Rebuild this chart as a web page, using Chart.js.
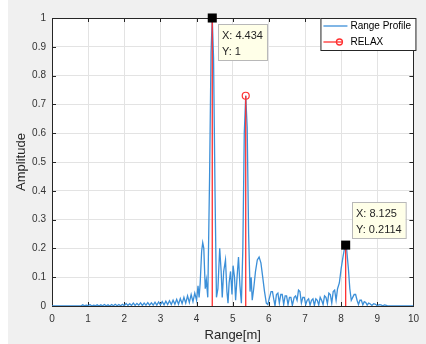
<!DOCTYPE html>
<html>
<head>
<meta charset="utf-8">
<script src="https://cdn.jsdelivr.net/npm/chart.js@4.4.1/dist/chart.umd.min.js"></script>
<style>
  html, body { margin: 0; padding: 0; background: #f0f0f0; }
  canvas { display: block; }
</style>
</head>
<body>
<canvas id="profile" width="426" height="344"></canvas>
<script>
// range profile (blue line)
const rangeM = [
  0, 0.8, 0.85, 0.9, 0.95, 1.0, 1.05, 1.1, 1.15, 1.2,
  1.25, 1.3, 1.35, 1.4, 1.45, 1.5, 1.55, 1.6, 1.65, 1.7,
  1.75, 1.8, 1.85, 1.9, 1.95,
  2.0, 2.05, 2.1, 2.15, 2.2, 2.25, 2.3, 2.35, 2.4, 2.45,
  2.5, 2.55, 2.6, 2.65, 2.7, 2.75, 2.8, 2.85, 2.9, 2.95,
  3.0, 3.05, 3.1, 3.15, 3.2, 3.25, 3.3, 3.35, 3.4, 3.45,
  3.5, 3.55, 3.6, 3.65, 3.7, 3.75, 3.8, 3.85, 3.9, 3.95,
  4.0, 4.04, 4.07, 4.1, 4.14, 4.17, 4.2, 4.24, 4.27, 4.31,
  4.36, 4.4, 4.434, 4.47, 4.51, 4.55, 4.59, 4.64, 4.68, 4.71,
  4.75, 4.8, 4.84, 4.87, 4.9, 4.94, 4.98, 5.01, 5.05, 5.08,
  5.12, 5.16, 5.2, 5.24, 5.28, 5.32, 5.36, 5.4, 5.44, 5.48,
  5.51, 5.54, 5.58, 5.63, 5.68, 5.73, 5.78, 5.83, 5.88, 5.93,
  5.97,
  6.02, 6.06, 6.1, 6.14, 6.17, 6.21, 6.25, 6.29, 6.33, 6.37,
  6.41, 6.45, 6.49, 6.53, 6.57, 6.61, 6.65, 6.7, 6.74, 6.78,
  6.82, 6.86, 6.9, 6.94, 6.98, 7.02, 7.06, 7.1, 7.14, 7.18,
  7.22, 7.26, 7.3, 7.34, 7.38, 7.42, 7.46, 7.5, 7.54, 7.58,
  7.62, 7.66, 7.7, 7.74, 7.78, 7.82, 7.86, 7.9, 7.95, 8.0,
  8.05, 8.1, 8.125, 8.15, 8.2, 8.24, 8.28, 8.32, 8.36, 8.4,
  8.44, 8.48, 8.52, 8.56, 8.6, 8.64, 8.68, 8.72, 8.76, 8.8,
  8.85, 8.9, 8.95, 9.0, 9.05, 9.1, 9.15, 9.2, 9.25, 9.3,
  10
];
const amplitude = [
  0, 0, 0.004, 0.001, 0.003, 0.001, 0.005, 0, 0.003, 0.001,
  0.004, 0, 0.004, 0.001, 0.005, 0.001, 0.004, 0, 0.005, 0.001,
  0.006, 0.001, 0.005, 0.001, 0.006,
  0.001, 0.009, 0.002, 0.008, 0.002, 0.01, 0.002, 0.009, 0.003, 0.011,
  0.002, 0.01, 0.003, 0.012, 0.003, 0.011, 0.003, 0.013, 0.003, 0.014,
  0.004, 0.015, 0.004, 0.017, 0.005, 0.018, 0.005, 0.02, 0.006, 0.023,
  0.006, 0.026, 0.008, 0.03, 0.01, 0.035, 0.012, 0.04, 0.015, 0.045,
  0.02, 0.07, 0.03, 0.08, 0.19, 0.22, 0.2, 0.06, 0.09, 0.03,
  0.45, 0.88, 1, 0.86, 0.4, 0.03, 0.06, 0.2, 0.12, 0.03,
  0.12, 0.16, 0.05, 0.01, 0.08, 0.12, 0.04, 0.14, 0.1, 0.02,
  0.1, 0.17, 0.07, 0.01, 0.2, 0.6, 0.73, 0.62, 0.25, 0.05,
  0.1, 0.02, 0.06, 0.12, 0.16, 0.17, 0.15, 0.1, 0.05, 0.01,
  0.005,
  0.03, 0.05, 0.05, 0.02, 0.001, 0.04, 0.045, 0.01, 0.04, 0.04,
  0.005, 0.035, 0.035, 0.005, 0.03, 0.03, 0.002, 0.03, 0.035, 0.02,
  0.055, 0.05, 0.01, 0.03, 0.03, 0.005, 0.02, 0.025, 0.003, 0.02,
  0.025, 0.002, 0.025, 0.02, 0.003, 0.03, 0.02, 0.005, 0.035, 0.03,
  0.008, 0.045, 0.04, 0.01, 0.05, 0.055, 0.02, 0.06, 0.08, 0.13,
  0.17, 0.205, 0.2114, 0.2, 0.13, 0.06, 0.02, 0.03, 0.04, 0.04,
  0.02, 0.005, 0.02, 0.02, 0.004, 0.015, 0.012, 0.003, 0.01, 0.008,
  0.002, 0.008, 0.006, 0.001, 0.005, 0.004, 0.001, 0.004, 0.002, 0,
  0
];

// RELAX estimates (red stems); first and last tops sit under the data tips
const relaxRange = [4.434, 5.36, 8.125];
const relaxAmp = [1, 0.73, 0.2114];

// data tips
const tipRange = [4.434, 8.125];
const tipAmp = [1, 0.2114];
const tipText = [['X: 4.434', 'Y: 1'], ['X: 8.125', 'Y: 0.2114']];

const seriesNames = ['Range Profile', 'RELAX'];

const FONT = "'Liberation Sans', Arial, sans-serif";
const BLUE = '#3b8fd8';
const RED = '#ff3030';
const AXIS = '#262626';

Chart.defaults.font.family = FONT;

const profileData = rangeM.map((x, i) => ({ x: x, y: amplitude[i] }));
const stemData = [];
relaxRange.forEach((x, i) => {
  stemData.push({ x: x, y: 0 }, { x: x, y: relaxAmp[i] }, { x: x, y: null });
});
const tipData = tipRange.map((x, i) => ({ x: x, y: tipAmp[i] }));

// grey figure, white axes, box + inward ticks like matlab
const frame = {
  id: 'frame',
  beforeDraw(chart) {
    const { ctx, chartArea: a } = chart;
    ctx.save();
    ctx.fillStyle = '#f0f0f0';
    ctx.fillRect(0, 0, chart.width, chart.height);
    ctx.fillStyle = '#ffffff';
    ctx.fillRect(0, 0, 8, chart.height);
    ctx.fillRect(a.left, a.top, a.right - a.left, a.bottom - a.top);
    ctx.restore();
  },
  beforeDatasetsDraw(chart) {
    const { ctx, chartArea: a, scales } = chart;
    ctx.save();
    ctx.strokeStyle = AXIS;
    ctx.lineWidth = 1;
    ctx.beginPath();
    scales.x.ticks.forEach(t => {
      const px = Math.round(scales.x.getPixelForValue(t.value)) + 0.5;
      ctx.moveTo(px, a.bottom); ctx.lineTo(px, a.bottom - 4);
      ctx.moveTo(px, a.top); ctx.lineTo(px, a.top + 4);
    });
    scales.y.ticks.forEach(t => {
      const py = Math.round(scales.y.getPixelForValue(t.value)) + 0.5;
      ctx.moveTo(a.left, py); ctx.lineTo(a.left + 4, py);
      ctx.moveTo(a.right, py); ctx.lineTo(a.right - 4, py);
    });
    ctx.stroke();
    ctx.strokeRect(Math.round(a.left) + 0.5, Math.round(a.top) + 0.5,
      Math.round(a.right - a.left), Math.round(a.bottom - a.top));
    ctx.restore();
  },
  afterDraw(chart) {
    const { ctx, chartArea: a } = chart;
    ctx.save();
    // legend box, top right inside the axes
    const lx = a.right - 93, ly = a.top, lw = 95, lh = 32;
    ctx.fillStyle = '#ffffff';
    ctx.fillRect(lx, ly, lw, lh);
    ctx.strokeStyle = AXIS;
    ctx.lineWidth = 1;
    ctx.strokeRect(lx + 0.5, ly + 0.5, lw, lh);
    ctx.font = '10px ' + FONT;
    ctx.fillStyle = '#000000';
    ctx.textBaseline = 'middle';
    ctx.textAlign = 'left';
    ctx.lineWidth = 1.3;
    ctx.strokeStyle = BLUE;
    ctx.beginPath(); ctx.moveTo(lx + 3, ly + 8); ctx.lineTo(lx + 27, ly + 8); ctx.stroke();
    ctx.fillText(seriesNames[0], lx + 30, ly + 8.5);
    ctx.strokeStyle = RED;
    ctx.beginPath(); ctx.moveTo(lx + 3, ly + 24); ctx.lineTo(lx + 22, ly + 24); ctx.stroke();
    ctx.beginPath(); ctx.arc(lx + 19, ly + 24, 3, 0, Math.PI * 2); ctx.stroke();
    ctx.fillText(seriesNames[1], lx + 30, ly + 24.5);

    // data tip boxes
    ctx.font = '11px ' + FONT;
    const meta = chart.getDatasetMeta(0);
    meta.data.forEach((pt, i) => {
      const lines = tipText[i];
      const w = Math.max(...lines.map(t => ctx.measureText(t).width)) + 8;
      const h = 36;
      const bx = Math.round(pt.x + 6);
      const by = i === 0 ? Math.round(pt.y + 6) : Math.round(pt.y - 43);
      ctx.fillStyle = '#ffffe8';
      ctx.fillRect(bx, by, w, h);
      ctx.strokeStyle = '#b8b8b8';
      ctx.lineWidth = 1;
      ctx.strokeRect(bx + 0.5, by + 0.5, w, h);
      ctx.fillStyle = '#262626';
      ctx.fillText(lines[0], bx + 4, by + 12);
      ctx.fillText(lines[1], bx + 4, by + 28);
    });
    ctx.restore();
  }
};

new Chart(document.getElementById('profile'), {
  type: 'scatter',
  data: {
    datasets: [
      {
        label: 'datatips',
        data: tipData,
        showLine: false,
        pointStyle: 'rect',
        pointRadius: 6.4,
        pointBackgroundColor: '#000000',
        pointBorderColor: '#000000',
        pointBorderWidth: 0,
        clip: false,
        order: 0
      },
      {
        label: seriesNames[1],
        data: stemData,
        showLine: true,
        spanGaps: false,
        borderColor: RED,
        borderWidth: 1.3,
        pointStyle: 'circle',
        pointRadius: ctx => (ctx.dataIndex % 3 === 1 ? 3.5 : 0),
        pointBorderColor: RED,
        pointBackgroundColor: 'rgba(0,0,0,0)',
        pointBorderWidth: 1.2,
        clip: false,
        order: 1
      },
      {
        label: seriesNames[0],
        data: profileData,
        showLine: true,
        borderColor: BLUE,
        borderWidth: 1.3,
        pointRadius: 0,
        tension: 0,
        order: 2
      }
    ]
  },
  options: {
    responsive: false,
    animation: false,
    events: [],
    layout: { padding: { left: 0, right: 12, top: 18, bottom: 0 } },
    plugins: {
      legend: { display: false },
      tooltip: { enabled: false }
    },
    scales: {
      x: {
        type: 'linear',
        min: 0,
        max: 10,
        afterFit: s => { s.height = 38; },
        ticks: { stepSize: 1, color: '#333333', font: { size: 10 }, padding: 7, maxRotation: 0 },
        grid: { color: '#e3e3e3', drawTicks: false },
        border: { display: false },
        title: { display: true, text: 'Range[m]', color: '#262626', font: { size: 13 }, padding: { top: 0, bottom: 1 } }
      },
      y: {
        min: 0,
        max: 1,
        afterFit: s => { s.width = 52; },
        ticks: {
          stepSize: 0.1,
          color: '#333333',
          font: { size: 10 },
          padding: 6,
          callback: v => (v === 0 ? '0' : v === 1 ? '1' : v.toFixed(1))
        },
        grid: { color: '#e3e3e3', drawTicks: false },
        border: { display: false },
        title: { display: true, text: 'Amplitude', color: '#262626', font: { size: 13 }, padding: { top: 14, bottom: 0 } }
      }
    }
  },
  plugins: [frame]
});
</script>
</body>
</html>
